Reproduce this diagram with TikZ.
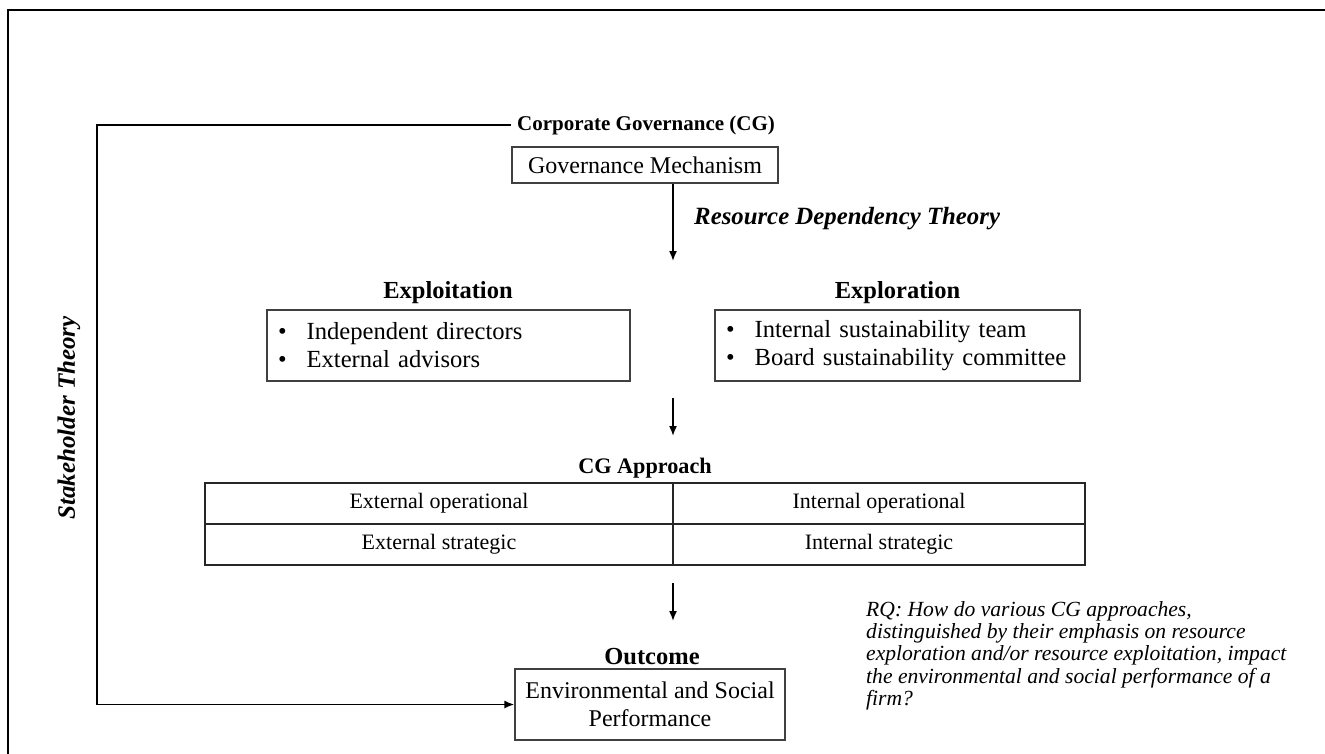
\documentclass[tikz,border=0pt]{standalone}
\usepackage{fontspec}
\setmainfont{Liberation Serif}
\usetikzlibrary{arrows.meta}
\begin{document}
\begin{tikzpicture}[x=1pt,y=-1pt,
  every node/.style={font=\fontsize{24}{28}\selectfont},
  heading/.style={font=\fontsize{24}{28}\selectfont\bfseries, inner sep=6pt},
  plainbox/.style={draw=black!75, line width=1.3pt, align=center, inner sep=0pt},
  listbox/.style={draw=black!75, line width=1.3pt, align=left, inner xsep=11pt, inner ysep=0pt, minimum height=71pt, font=\fontsize{24.6}{28}\selectfont},
  cell/.style={draw=black!85, line width=1.4pt, inner sep=0pt, minimum height=41pt, font=\fontsize{22}{26}\selectfont},
  flow/.style={line width=1.6pt, -{Latex[length=10pt,width=8pt]}},
]
\useasboundingbox (0,0) rectangle (1325,754);

% outer frame (top and left edges)
\draw[line width=2.6pt] (8,754) -- (8,10) -- (1325,10);

% governance block
\node[heading, font=\fontsize{21}{25}\selectfont\bfseries] (cg) at (646,125) {Corporate Governance (CG)};
\node[plainbox, minimum width=266pt, minimum height=36pt] (gm) at (645,165) {Governance Mechanism};
\coordinate (a1e) at (673,261);
\draw[flow] (gm.south -| a1e) -- (a1e);
\node[font=\fontsize{24.8}{28}\selectfont\bfseries\itshape, anchor=west, inner sep=0pt] (rdt) at (694,219) {Resource Dependency Theory};

% exploitation / exploration
\node[heading, font=\fontsize{24.5}{28}\selectfont\bfseries] (exploitT) at (448,293) {Exploitation};
\node[listbox, text width=341pt] (exploit) at (448.5,345.5)
  {\textbullet\hspace{20pt}Independent directors\\ \textbullet\hspace{20pt}External advisors};
\node[heading, font=\fontsize{24.5}{28}\selectfont\bfseries] (exploreT) at (897.5,293) {Exploration};
\node[listbox, text width=343pt] (explore) at (897.5,345.5)
  {\textbullet\hspace{20pt}Internal sustainability team\\ \textbullet\hspace{20pt}Board sustainability committee};

\coordinate (a2s) at (673,398);
\coordinate (a2e) at (673,436);
\draw[flow] (a2s) -- (a2e);

% CG approach table
\node[heading, font=\fontsize{22.2}{26}\selectfont\bfseries] (cga) at (645,468) {CG Approach};
\node[cell, minimum width=468pt] (eo) at (439,503.5) {External operational};
\node[cell, minimum width=412pt] (io) at (879,503.5) {Internal operational};
\node[cell, minimum width=468pt] (es) at (439,544.5) {External strategic};
\node[cell, minimum width=412pt] (is) at (879,544.5) {Internal strategic};

\coordinate (a3s) at (673,583);
\coordinate (a3e) at (673,621);
\draw[flow] (a3s) -- (a3e);

% outcome
\node[heading, font=\fontsize{24.5}{28}\selectfont\bfseries] (outT) at (652,657) {Outcome};
\node[plainbox, minimum width=270pt, minimum height=71pt] (out) at (650,704.5)
  {Environmental and Social\\Performance};

% research question
\node[font=\fontsize{21.6}{22.3}\selectfont\itshape, align=left, anchor=north west, inner sep=0pt] (rq) at (866,601)
  {RQ: How do various CG approaches,\\
   distinguished by their emphasis on resource\\
   exploration and/or resource exploitation, impact\\
   the environmental and social performance of a\\
   firm?};

% stakeholder theory feedback path
\coordinate (st) at (97,400);
\draw[flow] (cg.west) -| (st) |- (out.west);
\node[font=\fontsize{25}{28}\selectfont\bfseries\itshape, rotate=90, inner sep=0pt] (stl) at (69,418) {Stakeholder Theory};
\end{tikzpicture}
\end{document}
